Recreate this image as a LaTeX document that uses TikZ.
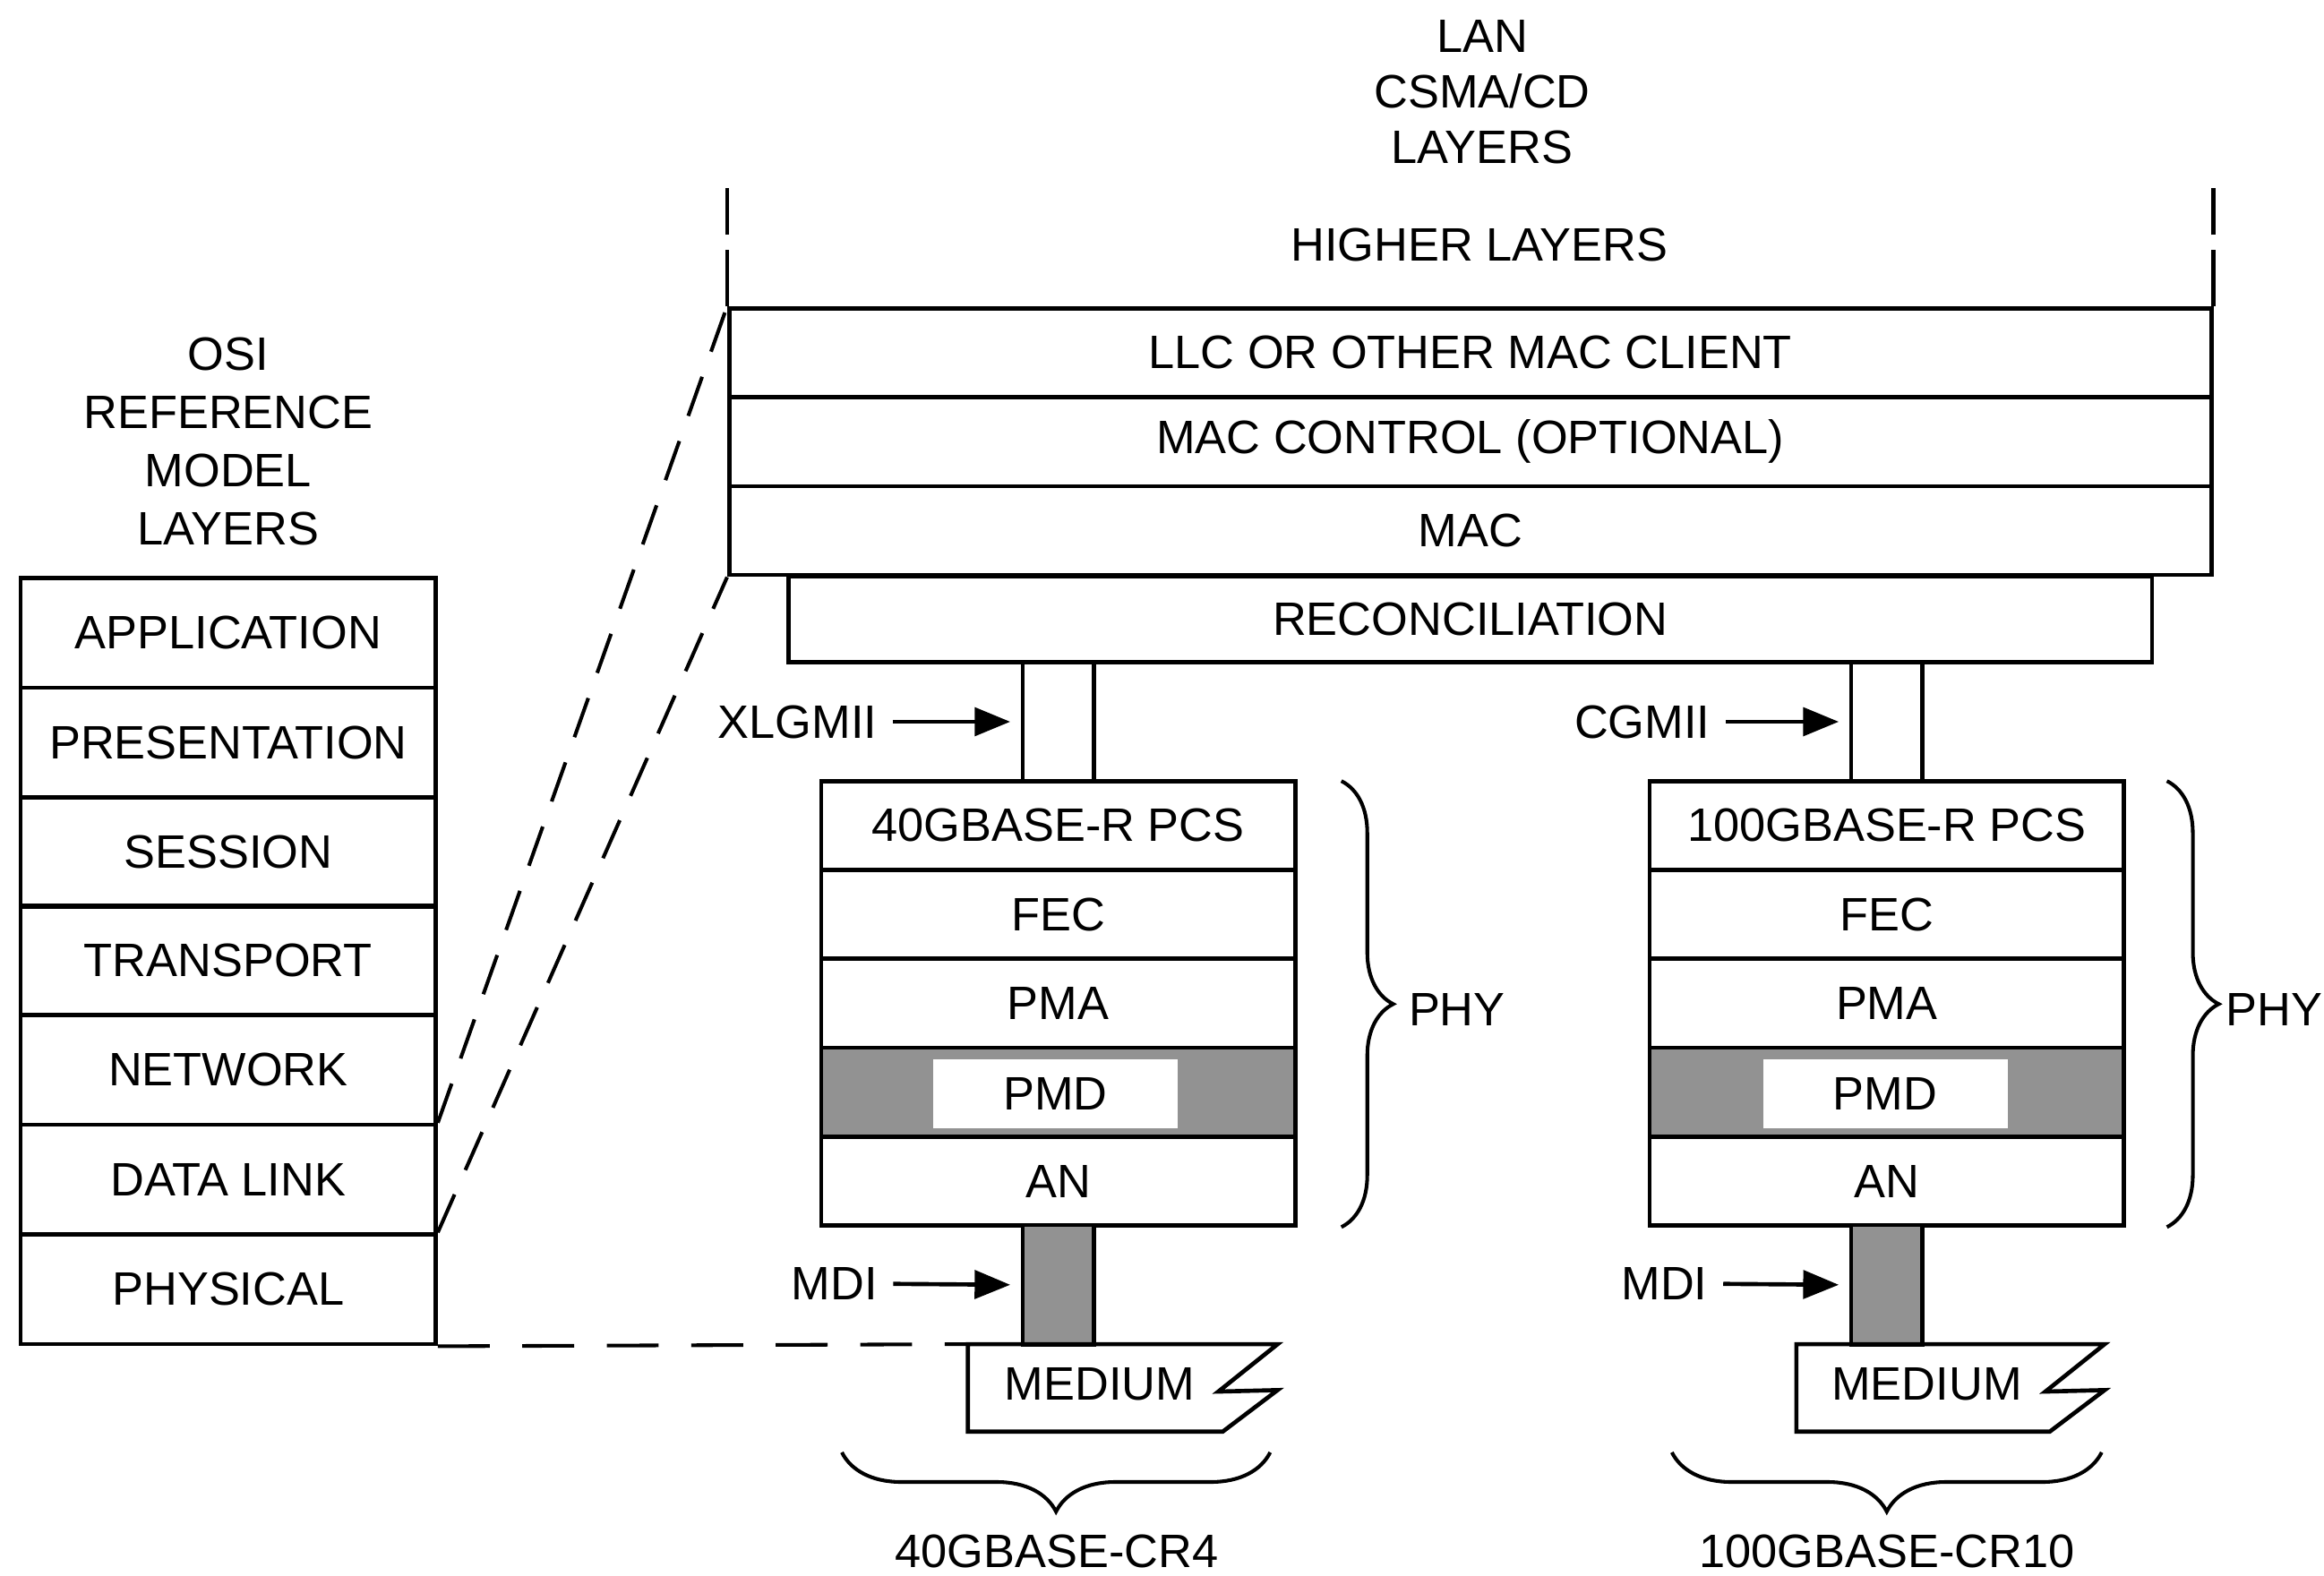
\documentclass[tikz,border=0pt]{standalone}
\usepackage{fontspec}
\setmainfont{Liberation Sans}
\usepackage{tikz}
\usetikzlibrary{arrows.meta,shapes,positioning,decorations.pathreplacing}
\definecolor{LayerGray}{HTML}{929292}

\begin{document}
\begin{tikzpicture}[x=0.1mm, y=-0.1mm,
    layer/.style={draw, line width=0.8pt, minimum height=6mm, inner sep=0pt,
                  font=\fontsize{9}{11}\selectfont},
    osilayer/.style={layer, minimum width=28mm, minimum height=7.4mm},
    lanlayer/.style={layer, minimum width=100mm},
    phylayer/.style={layer, minimum width=32mm},
    pmdlayer/.style={phylayer, fill=LayerGray},
    pmdinner/.style={fill=white, minimum width=16.5mm, minimum height=4.7mm,
                     inner sep=0pt, font=\fontsize{9}{11}\selectfont},
    channel/.style={draw, line width=0.8pt, minimum width=4.8mm, minimum height=8mm, inner sep=0pt},
    lbl/.style={font=\fontsize{9}{11}\selectfont, align=center, inner sep=0pt},
    arrow/.style={-{Triangle[length=2.4mm,width=1.9mm]}, line width=0.8pt,
                  shorten >=0.7mm, shorten <=1mm},
    mapline/.style={line width=0.7pt, dash pattern=on 2.8mm off 1.8mm},
    phybrace/.style={line width=0.7pt, decorate, decoration={brace, amplitude=3.5mm}},
  ]
    \useasboundingbox (0,0) rectangle (1568,1063);

    % OSI reference model
    \node[lbl, font=\fontsize{9}{11.2}\selectfont] (osititle) at (154,298) {OSI\\REFERENCE\\MODEL\\LAYERS};
    \node[osilayer] (app)  at (154,427) {APPLICATION};
    \node[osilayer] (pres) at (154,501) {PRESENTATION};
    \node[osilayer] (sess) at (154,575) {SESSION};
    \node[osilayer] (trns) at (154,648) {TRANSPORT};
    \node[osilayer] (netw) at (154,722) {NETWORK};
    \node[osilayer] (dlnk) at (154,796) {DATA LINK};
    \node[osilayer] (phys) at (154,870) {PHYSICAL};

    % LAN CSMA/CD layers
    \node[lbl, font=\fontsize{9}{10.6}\selectfont] (lantitle) at (1000,62) {LAN\\CSMA/CD\\LAYERS};
    \node[lbl] (higher) at (998,165) {HIGHER LAYERS};
    \node[lanlayer] (llc)   at (992,238) {LLC OR OTHER MAC CLIENT};
    \node[lanlayer] (macc)  at (992,298) {MAC CONTROL (OPTIONAL)};
    \node[lanlayer] (mac)   at (992,358) {MAC};
    \node[layer, minimum width=92mm, minimum height=5.8mm] (recon) at (992,418) {RECONCILIATION};
    \draw[line width=0.8pt, dash pattern=on 3.8mm off 1mm] (llc.north west) -- ++(0,-80);
    \draw[line width=0.8pt, dash pattern=on 3.8mm off 1mm] (llc.north east) -- ++(0,-80);

    % 40G PHY
    \node[channel] (xlch) at (714,487) {};
    \node[phylayer] (pcsa) at (714,557) {40GBASE-R PCS};
    \node[phylayer] (feca) at (714,617) {FEC};
    \node[phylayer] (pmaa) at (714,677) {PMA};
    \node[pmdlayer] (pmda) at (714,737) {};
    \node[pmdinner] at (712,738) {PMD};
    \node[phylayer] (ana)  at (714,797) {AN};
    \node[channel, fill=LayerGray, minimum height=8.1mm] (mdia) at (714,867) {};
    \node[lbl] (medm40) at (742,934) {MEDIUM};
    \coordinate (med40nw) at (653,907);
    \draw[line width=0.8pt] (med40nw) -- (862,907) -- (822,939) -- (862,938) -- (825,966) -- (653,966) -- cycle;

    % 100G PHY
    \node[channel] (cgch) at (1273,487) {};
    \node[phylayer] (pcsb) at (1273,557) {100GBASE-R PCS};
    \node[phylayer] (fecb) at (1273,617) {FEC};
    \node[phylayer] (pmab) at (1273,677) {PMA};
    \node[pmdlayer] (pmdb) at (1273,737) {};
    \node[pmdinner] at (1272,738) {PMD};
    \node[phylayer] (anb)  at (1273,797) {AN};
    \node[channel, fill=LayerGray, minimum height=8.1mm] (mdib) at (1273,867) {};
    \node[lbl] (medm100) at (1300,934) {MEDIUM};
    \draw[line width=0.8pt] (1212,907) -- (1420,907) -- (1380,939) -- (1420,938) -- (1383,966) -- (1212,966) -- cycle;

    % interface labels
    \node[lbl] (xlgmii) at (538,487) {XLGMII};
    \node[lbl] (cgmii)  at (1108,487) {CGMII};
    \node[lbl] (mdilbla) at (563,866) {MDI};
    \node[lbl] (mdilblb) at (1123,866) {MDI};
    \draw[arrow] (xlgmii) -- (xlch.west);
    \draw[arrow] (cgmii)  -- (cgch.west);
    \draw[arrow] (mdilbla) -- (mdia.west);
    \draw[arrow] (mdilblb) -- (mdib.west);

    % braces
    \draw[phybrace] (905,527) -- (905,828);
    \node[lbl] (phya) at (983,681) {PHY};
    \draw[phybrace] (1462,527) -- (1462,828);
    \node[lbl, anchor=west] (phyb) at (1501,681) {PHY};
    \draw[phybrace, decoration={brace, amplitude=4mm}] (857,980) -- (568,980);
    \node[lbl] (cr4) at (713,1047) {40GBASE-CR4};
    \draw[phybrace, decoration={brace, amplitude=4mm}] (1418,980) -- (1128,980);
    \node[lbl] (cr10) at (1273,1047) {100GBASE-CR10};

    % mapping of OSI layers
    \draw[mapline] (dlnk.north east) -- (llc.north west);
    \draw[mapline] (phys.north east) -- (mac.south west);
    \draw[mapline, dash pattern=on 3.5mm off 2.2mm] (phys.south east) -- (med40nw);
  \end{tikzpicture}
\end{document}
